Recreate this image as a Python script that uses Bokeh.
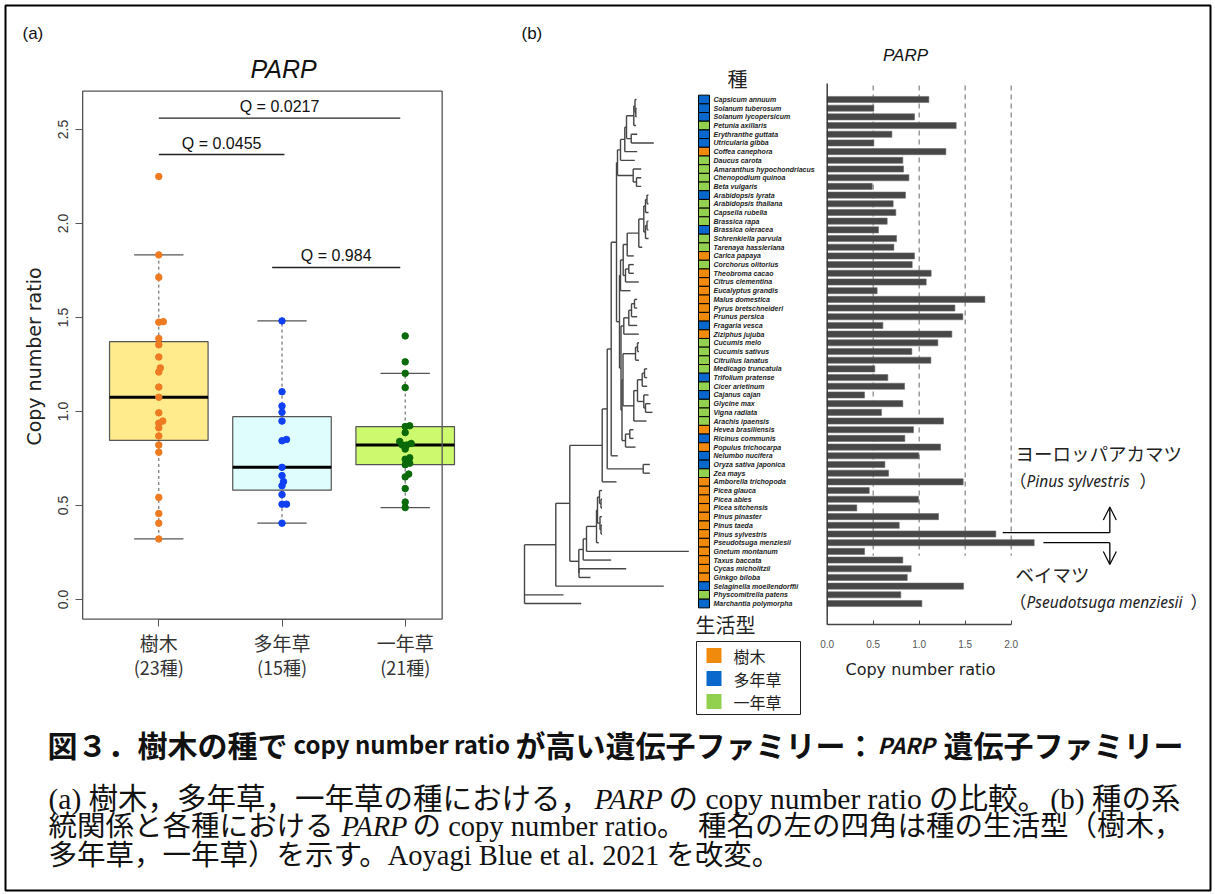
import numpy as np
from bokeh.plotting import figure
from bokeh.models import (Range1d, LinearAxis, FixedTicker, Label, Arrow, OpenHead,
                          ColumnDataSource)
from bokeh.core.properties import value
from bokeh.embed import file_html
from bokeh.resources import INLINE

# ------------------------------------------------------------------ data
species = [
    "Capsicum annuum", "Solanum tuberosum", "Solanum lycopersicum", "Petunia axillaris",
    "Erythranthe guttata", "Utricularia gibba", "Coffea canephora", "Daucus carota",
    "Amaranthus hypochondriacus", "Chenopodium quinoa", "Beta vulgaris", "Arabidopsis lyrata",
    "Arabidopsis thaliana", "Capsella rubella", "Brassica rapa", "Brassica oleracea",
    "Schrenkiella parvula", "Tarenaya hassleriana", "Carica papaya", "Corchorus olitorius",
    "Theobroma cacao", "Citrus clementina", "Eucalyptus grandis", "Malus domestica",
    "Pyrus bretschneideri", "Prunus persica", "Fragaria vesca", "Ziziphus jujuba",
    "Cucumis melo", "Cucumis sativus", "Citrullus lanatus", "Medicago truncatula",
    "Trifolium pratense", "Cicer arietinum", "Cajanus cajan", "Glycine max",
    "Vigna radiata", "Arachis ipaensis", "Hevea brasiliensis", "Ricinus communis",
    "Populus trichocarpa", "Nelumbo nucifera", "Oryza sativa japonica", "Zea mays",
    "Amborella trichopoda", "Picea glauca", "Picea abies", "Picea sitchensis",
    "Pinus pinaster", "Pinus taeda", "Pinus sylvestris", "Pseudotsuga menziesii",
    "Gnetum montanum", "Taxus baccata", "Cycas micholitzii", "Ginkgo biloba",
    "Selaginella moellendorffii", "Physcomitrella patens", "Marchantia polymorpha",
]
# T = 樹木 (tree), P = 多年草 (perennial herb), A = 一年草 (annual herb)
life_form = [
    "P", "P", "P", "A", "P", "P", "T", "A", "A", "A", "A", "P", "A", "A", "A", "P",
    "A", "A", "T", "A", "T", "T", "T", "T", "T", "T", "P", "T", "A", "A", "A", "A",
    "P", "A", "P", "A", "A", "A", "T", "P", "T", "P", "P", "A", "T", "T", "T", "T",
    "T", "T", "T", "T", "T", "T", "T", "T", "P", "A", "P",
]
copy_ratio = [
    1.105, 0.507, 0.949, 1.402, 0.703, 0.507, 1.290, 0.822, 0.830, 0.888, 0.489, 0.851,
    0.717, 0.746, 0.652, 0.558, 0.754, 0.725, 0.949, 0.924, 1.130, 1.076, 0.543, 1.714,
    1.388, 1.475, 0.605, 1.355, 1.203, 0.920, 1.127, 0.518, 0.659, 0.841, 0.406, 0.822,
    0.590, 1.264, 0.938, 0.844, 1.232, 0.996, 0.627, 0.667, 1.478, 0.457, 0.993, 0.322,
    1.210, 0.783, 1.833, 2.250, 0.406, 0.822, 0.913, 0.870, 1.482, 0.800, 1.029,
]
# tip depth of each species in the phylogeny (branch-length units)
tip_depth = [
    112.0, 112.0, 112.0, 111.5, 112.7, 129.3, 112.7, 110.3, 116.7, 116.7, 116.7, 124.0,
    124.0, 124.0, 124.0, 124.0, 124.0, 117.7, 109.3, 109.3, 109.3, 114.3, 106.0, 112.7,
    112.7, 112.7, 112.7, 114.3, 114.5, 114.5, 114.5, 122.7, 122.7, 122.7, 124.0, 126.0,
    128.0, 122.0, 109.0, 109.0, 111.0, 93.3, 125.3, 125.3, 92.0, 77.5, 77.5, 77.5,
    77.5, 77.5, 77.5, 74.3, 164.3, 86.7, 101.7, 66.0, 139.3, 39.0, 56.7,
]
# internal nodes: name -> (depth, children)
tree_nodes = {
    "root": (0.0, ["vasc", "Physcomitrella patens", "Marchantia polymorpha"]),
    "vasc": (31.3, ["seed", "Selaginella moellendorffii"]),
    "seed": (45.3, ["angio", "gymno"]),
    "angio": (77.7, ["mesang", "Amborella trichopoda"]),
    "mesang": (82.7, ["eudicot", "monocot"]),
    "monocot": (118.7, ["Oryza sativa japonica", "Zea mays"]),
    "eudicot": (86.7, ["core", "Nelumbo nucifera"]),
    "core": (92.0, ["superast", "rosid"]),
    "superast": (93.0, ["asterid", "caryo"]),
    "asterid": (96.0, ["lamiid", "Daucus carota"]),
    "lamiid": (100.3, ["solam", "Coffea canephora"]),
    "solam": (102.0, ["solan", "lamiales"]),
    "solan": (109.3, ["capsol", "Petunia axillaris"]),
    "capsol": (110.5, ["Capsicum annuum", "solanum"]),
    "solanum": (111.3, ["Solanum tuberosum", "Solanum lycopersicum"]),
    "lamiales": (106.7, ["Erythranthe guttata", "Utricularia gibba"]),
    "caryo": (108.7, ["Amaranthus hypochondriacus", "chenbeta"]),
    "chenbeta": (112.0, ["Chenopodium quinoa", "Beta vulgaris"]),
    "rosid": (95.0, ["malvid", "fabid"]),
    "malvid": (96.0, ["malv2", "Eucalyptus grandis"]),
    "malv2": (98.7, ["brassicales", "malsap"]),
    "brassicales": (102.7, ["bracle", "Carica papaya"]),
    "bracle": (114.3, ["brassicaceae", "Tarenaya hassleriana"]),
    "brassicaceae": (119.3, ["lin1", "lin2"]),
    "lin1": (121.0, ["arabidopsis", "Capsella rubella"]),
    "arabidopsis": (122.5, ["Arabidopsis lyrata", "Arabidopsis thaliana"]),
    "lin2": (121.0, ["brassica", "Schrenkiella parvula"]),
    "brassica": (122.5, ["Brassica rapa", "Brassica oleracea"]),
    "malsap": (101.0, ["malvales", "Citrus clementina"]),
    "malvales": (104.3, ["Corchorus olitorius", "Theobroma cacao"]),
    "fabid": (96.5, ["rosales", "fab2"]),
    "rosales": (99.3, ["rosaceae", "Ziziphus jujuba"]),
    "rosaceae": (104.3, ["amygdal", "Fragaria vesca"]),
    "amygdal": (107.0, ["pome", "Prunus persica"]),
    "pome": (110.0, ["Malus domestica", "Pyrus bretschneideri"]),
    "fab2": (97.5, ["fab3", "malpig"]),
    "fab3": (98.5, ["cucurbit", "fabaceae"]),
    "cucurbit": (111.0, ["cucumis", "Citrullus lanatus"]),
    "cucumis": (113.0, ["Cucumis melo", "Cucumis sativus"]),
    "fabaceae": (109.3, ["papil", "Arachis ipaensis"]),
    "papil": (113.0, ["irlc", "millet"]),
    "irlc": (117.7, ["medtri", "Cicer arietinum"]),
    "medtri": (120.0, ["Medicago truncatula", "Trifolium pratense"]),
    "millet": (119.3, ["Cajanus cajan", "glyvig"]),
    "glyvig": (121.0, ["Glycine max", "Vigna radiata"]),
    "malpig": (101.0, ["euph", "Populus trichocarpa"]),
    "euph": (105.3, ["Hevea brasiliensis", "Ricinus communis"]),
    "gymno": (54.3, ["gym1", "cycgin"]),
    "gym1": (58.7, ["gym2", "Taxus baccata"]),
    "gym2": (62.0, ["pinaceae", "Gnetum montanum"]),
    "pinaceae": (72.0, ["pinpic", "Pseudotsuga menziesii"]),
    "pinpic": (73.0, ["picea", "pinus"]),
    "picea": (75.0, ["Picea glauca", "piceaAS"]),
    "piceaAS": (76.5, ["Picea abies", "Picea sitchensis"]),
    "pinus": (75.5, ["Pinus pinaster", "pinusTS"]),
    "pinusTS": (76.5, ["Pinus taeda", "Pinus sylvestris"]),
    "cycgin": (54.5, ["Cycas micholitzii", "Ginkgo biloba"]),
}

group_codes = ["T", "P", "A"]
group_names = ["樹木", "多年草", "一年草"]
group_counts = ["(23種)", "(15種)", "(21種)"]
box_fill = ["#FFEA8C", "#DFFDFD", "#CDF96E"]
point_color = ["#EE7A22", "#1040F5", "#0A6A0A"]
life_color = {"T": "#F08A0C", "P": "#0A68CC", "A": "#92D050"}

box_yticks = [0.0, 0.5, 1.0, 1.5, 2.0, 2.5]
box_ylabels = ["0.0", "0.5", "1.0", "1.5", "2.0", "2.5"]
bar_xticks = [0.0, 0.5, 1.0, 1.5, 2.0]
bar_xlabels = ["0.0", "0.5", "1.0", "1.5", "2.0"]
bar_guides = [0.5, 1.0, 1.5, 2.0]

q_text = ["Q = 0.0217", "Q = 0.0455", "Q = 0.984"]
q_x0 = [1.0, 1.0, 1.92]
q_x1 = [2.96, 2.02, 2.96]
q_y = [2.56, 2.367, 1.766]

# ------------------------------------------------------------------ geometry helpers
W, H = 1213, 892
PX0, PY0 = 0, 0          # page offset of the canvas


def hrange(a, b):
    """range so that value v lands at page x = a + b*v"""
    return Range1d((PX0 - a) / b, (PX0 + W - a) / b)


def vrange(a, b):
    """range so that value v lands at page y = a + b*v (page y grows downwards)"""
    return Range1d((PY0 + H - a) / b, (PY0 - a) / b)


BOX_X = (158.3 - 123.2, 123.2)
BOX_Y = (599.0, -188.0)
BAR_X = (826.7, 92.0)
ROW_Y = (99.0, 8.69)
TREE_X = (524.0, 1.0)

p = figure(width=W, height=H, output_backend="svg", toolbar_location=None,
           x_range=Range1d(PX0, PX0 + W), y_range=Range1d(PY0 + H, PY0),
           x_axis_location=None, y_axis_location=None, min_border=0,
           background_fill_color="white", border_fill_color="white")
p.grid.visible = False
p.outline_line_color = None
p.extra_x_ranges = {"bx": hrange(*BOX_X), "bar": hrange(*BAR_X), "tree": hrange(*TREE_X)}
p.extra_y_ranges = {"by": vrange(*BOX_Y), "rows": vrange(*ROW_Y)}

# outer frame of the whole figure
p.quad(left=[5], right=[1210], top=[5], bottom=[890], fill_color=None,
       line_color="black", line_width=2)

SANS = "Liberation Sans"
CJK = "Noto Sans CJK JP"

# ------------------------------------------------------------------ panel (a): box plot
ratio = np.array(copy_ratio)
lf = np.array(life_form)
box_x_lo, box_x_hi = 0.382, 3.30
box_y_lo, box_y_hi = -0.104, 2.704


def fivenum(v):
    x = np.sort(v)
    n = len(x)
    n4 = np.floor((n + 3) / 2) / 2
    d = np.array([1, n4, (n + 1) / 2, n + 1 - n4, n]) - 1
    return 0.5 * (x[np.floor(d).astype(int)] + x[np.ceil(d).astype(int)])


stats = dict(x=[], q1=[], med=[], q3=[], lo=[], hi=[], fill=[])
pts = dict(x=[], y=[], c=[])
for gi, code in enumerate(group_codes):
    v = ratio[lf == code]
    f = fivenum(v)
    iqr = f[3] - f[1]
    lo = v[v >= f[1] - 1.5 * iqr].min()
    hi = v[v <= f[3] + 1.5 * iqr].max()
    xg = gi + 1
    stats["x"].append(xg); stats["q1"].append(f[1]); stats["med"].append(f[2])
    stats["q3"].append(f[3]); stats["lo"].append(lo); stats["hi"].append(hi)
    stats["fill"].append(box_fill[gi])
    # deterministic swarm layout of the points (pixel space)
    placed = []
    offs = np.zeros(len(v))
    steps = [0.0] + [s * k * 0.5 for k in range(1, 60) for s in (1, -1)]
    for i in np.argsort(v, kind="stable"):
        yp = v[i] * abs(BOX_Y[1])
        for xo in steps:
            if all((xo - a) ** 2 + (yp - b) ** 2 >= 4.3 ** 2 for a, b in placed):
                break
        placed.append((xo, yp))
        offs[i] = xo / BOX_X[1]
    pts["x"] += list(xg + offs)
    pts["y"] += list(v)
    pts["c"] += [point_color[gi]] * len(v)

st = ColumnDataSource(stats)
BR = dict(x_range_name="bx", y_range_name="by")
p.segment(x0="x", x1="x", y0="q3", y1="hi", source=st, line_color="#555555",
          line_dash="3 3", line_width=1, **BR)
p.segment(x0="x", x1="x", y0="lo", y1="q1", source=st, line_color="#555555",
          line_dash="3 3", line_width=1, **BR)
cap = ColumnDataSource(dict(x0=[x - 0.2 for x in stats["x"]] * 2,
                            x1=[x + 0.2 for x in stats["x"]] * 2,
                            y=stats["lo"] + stats["hi"]))
p.segment(x0="x0", x1="x1", y0="y", y1="y", source=cap, line_color="#555555",
          line_width=1.2, **BR)
p.quad(left=[x - 0.4 for x in stats["x"]], right=[x + 0.4 for x in stats["x"]],
       bottom=stats["q1"], top=stats["q3"], fill_color=stats["fill"],
       line_color="#555555", line_width=1.2, **BR)
p.segment(x0=[x - 0.4 for x in stats["x"]], x1=[x + 0.4 for x in stats["x"]],
          y0=stats["med"], y1=stats["med"], line_color="black", line_width=3, **BR)
p.scatter(x="x", y="y", color="c", size=6.5, source=ColumnDataSource(pts), **BR)
# plot frame
p.quad(left=[box_x_lo], right=[box_x_hi], bottom=[box_y_lo], top=[box_y_hi],
       fill_color=None, line_color="#555555", line_width=1.3, **BR)
# significance bars
qs = ColumnDataSource(dict(x0=q_x0, x1=q_x1, y=q_y, t=q_text,
                           xm=[(a + b) / 2 for a, b in zip(q_x0, q_x1)]))
p.segment(x0="x0", x1="x1", y0="y", y1="y", source=qs, line_color="#222222",
          line_width=1.3, **BR)
p.text(x="xm", y="y", text="t", source=qs, text_align="center", text_baseline="bottom",
       y_offset=-3, text_font=value(SANS), text_font_size="16px", text_color="#111111", **BR)

yax = LinearAxis(x_range_name="bx", y_range_name="by", fixed_location=box_x_lo,
                 bounds=(0, 2.5), ticker=FixedTicker(ticks=box_yticks),
                 major_label_overrides=dict(zip(box_yticks, box_ylabels)),
                 major_label_orientation="vertical")
xax = LinearAxis(x_range_name="bx", y_range_name="by", fixed_location=box_y_lo,
                 bounds=(1, 3), ticker=FixedTicker(ticks=[1, 2, 3]),
                 major_label_overrides={1: "", 2: "", 3: ""})
for ax in (yax, xax):
    ax.axis_line_color = "#555555"
    ax.axis_line_width = 1.2
    ax.major_tick_line_color = "#555555"
    ax.major_tick_out = 7
    ax.major_tick_in = 0
    ax.minor_tick_line_color = None
yax.major_label_text_font = SANS
yax.major_label_text_font_size = "14px"
yax.major_label_text_color = "#333333"
yax.major_label_standoff = 8
p.add_layout(yax, "left")
p.add_layout(xax, "below")
# two-line category labels under the ticks
p.text(x=[1, 2, 3], y=[box_y_lo] * 3, text=group_names, text_align="center",
       text_baseline="middle", y_offset=23, text_font=value(CJK), text_font_size="19px",
       text_color="#333333", **BR)
p.text(x=[1, 2, 3], y=[box_y_lo] * 3, text=group_counts, text_align="center",
       text_baseline="middle", y_offset=48, text_font=value(CJK), text_font_size="18px",
       text_color="#333333", **BR)

p.add_layout(Label(x=33, y=356, text="Copy number ratio", angle=np.pi / 2,
                   text_align="center", text_baseline="middle", text_font="DejaVu Sans",
                   text_font_size="19px", text_color="#222222"))
p.add_layout(Label(x=283, y=68, text="PARP", text_align="center", text_baseline="middle",
                   text_font=SANS, text_font_style="italic", text_font_size="25px",
                   text_color="#111111"))
p.add_layout(Label(x=22, y=33, text="(a)", text_baseline="middle", text_font=SANS,
                   text_font_size="17px", text_color="#111111"))
p.add_layout(Label(x=521, y=33, text="(b)", text_baseline="middle", text_font=SANS,
                   text_font_size="17px", text_color="#111111"))

# ------------------------------------------------------------------ panel (b): phylogeny
row_of = {s: i for i, s in enumerate(species)}
depth_of = {s: d for s, d in zip(species, tip_depth)}
ypos = dict(row_of)
segs = dict(x0=[], x1=[], y0=[], y1=[])


def place(name):
    if name in ypos and name not in tree_nodes:
        return ypos[name]
    d, kids = tree_nodes[name]
    ys = [place(k) for k in kids]
    ypos[name] = float(np.mean(ys))
    segs["x0"].append(d); segs["x1"].append(d)
    segs["y0"].append(min(ys)); segs["y1"].append(max(ys))
    for k, yk in zip(kids, ys):
        dk = tree_nodes[k][0] if k in tree_nodes else depth_of[k]
        segs["x0"].append(d); segs["x1"].append(dk)
        segs["y0"].append(yk); segs["y1"].append(yk)
    return ypos[name]


place("root")
p.segment(x0="x0", x1="x1", y0="y0", y1="y1", source=ColumnDataSource(segs),
          line_color="#454545", line_width=1.4, x_range_name="tree", y_range_name="rows")

# life-form squares and species names
rows = list(range(len(species)))
p.rect(x=[703.5] * len(rows), y=rows, width=11, height=1,
       fill_color=[life_color[c] for c in life_form], line_color="black", line_width=1,
       y_range_name="rows")
p.text(x=[713] * len(rows), y=rows, text=species, text_baseline="middle",
       text_font=value(SANS), text_font_style="bold italic", text_font_size="7px",
       text_color="#222222", y_range_name="rows")

# ------------------------------------------------------------------ panel (b): bars
BA = dict(x_range_name="bar", y_range_name="rows")
axis_row = (624.3 - ROW_Y[0]) / ROW_Y[1]
p.segment(x0=bar_guides, x1=bar_guides, y0=[-1.6] * 4, y1=[52.5] * 4,
          line_color="#8a8a8a", line_dash="5 4", line_width=1.3, **BA)
p.hbar(y=rows, left=0, right=copy_ratio, height=0.7, fill_color="#474747",
       line_color="#6a6a6a", line_width=0.6, **BA)
p.segment(x0=[0], x1=[0], y0=[-1.85], y1=[axis_row], line_color="#333333",
          line_width=1.4, **BA)
bax = LinearAxis(x_range_name="bar", y_range_name="rows", fixed_location=axis_row,
                 bounds=(0, 2), ticker=FixedTicker(ticks=bar_xticks),
                 major_label_overrides=dict(zip(bar_xticks, bar_xlabels)))
bax.axis_line_color = "#444444"
bax.axis_line_width = 1.3
bax.major_tick_line_color = "#444444"
bax.major_tick_in = 4
bax.major_tick_out = 0
bax.minor_tick_line_color = None
bax.major_label_text_font = SANS
bax.major_label_text_font_size = "10px"
bax.major_label_text_color = "#555555"
bax.major_label_standoff = 15
p.add_layout(bax, "below")
p.add_layout(Label(x=920, y=669, text="Copy number ratio", text_align="center",
                   text_baseline="middle", text_font="DejaVu Sans", text_font_size="16px",
                   text_color="#222222"))
p.add_layout(Label(x=905, y=55, text="PARP", text_align="center", text_baseline="middle",
                   text_font=SANS, text_font_style="italic", text_font_size="17px",
                   text_color="#111111"))
p.add_layout(Label(x=737, y=78, text="種", text_align="center", text_baseline="middle",
                   text_font=CJK, text_font_size="20px", text_color="#222222"))
p.add_layout(Label(x=725, y=624, text="生活型", text_align="center", text_baseline="middle",
                   text_font=CJK, text_font_size="20px", text_color="#222222"))

# legend box
leg_y = [655, 678, 701]
p.quad(left=[696], right=[800], top=[641], bottom=[714], fill_color="white",
       line_color="#222222", line_width=1)
p.rect(x=[713.5] * 3, y=leg_y, width=15, height=15,
       fill_color=[life_color[c] for c in group_codes], line_color=None)
p.text(x=[733] * 3, y=leg_y, text=group_names, text_baseline="middle",
       text_font=value(CJK), text_font_size="16px", text_color="#222222")

# call-outs for the two highest Pinaceae
i_ps = species.index("Pinus sylvestris")
i_pm = species.index("Pseudotsuga menziesii")
turn_x = 3.072
p.segment(x0=[copy_ratio[i_ps] + 0.075, copy_ratio[i_pm] + 0.1], x1=[turn_x, turn_x],
          y0=[i_ps - 0.15, i_pm], y1=[i_ps - 0.15, i_pm], line_color="black",
          line_width=1.3, **BA)
p.add_layout(Arrow(end=OpenHead(size=13, line_width=1.2, line_color="black"),
                   x_start=turn_x, x_end=turn_x, y_start=i_ps - 0.15, y_end=i_ps - 3.1,
                   line_width=1.3, line_color="black", **BA))
p.add_layout(Arrow(end=OpenHead(size=13, line_width=1.2, line_color="black"),
                   x_start=turn_x, x_end=turn_x, y_start=i_pm, y_end=i_pm + 2.5,
                   line_width=1.3, line_color="black", **BA))

NOTE = "Noto Sans"
p.add_layout(Label(x=1015, y=452, text="ヨーロッパアカマツ", text_baseline="middle",
                   text_font=CJK, text_font_size="18.5px", text_color="#222222"))
p.add_layout(Label(x=1009, y=480, text="（", text_baseline="middle",
                   text_font=CJK, text_font_size="17px", text_color="#222222"))
p.add_layout(Label(x=1026, y=480, text="Pinus sylvestris", text_baseline="middle",
                   text_font=NOTE, text_font_style="italic", text_font_size="15.5px",
                   text_color="#222222"))
p.add_layout(Label(x=1139, y=480, text="）", text_baseline="middle",
                   text_font=CJK, text_font_size="17px", text_color="#222222"))
p.add_layout(Label(x=1015, y=573, text="ベイマツ", text_baseline="middle",
                   text_font=CJK, text_font_size="18.5px", text_color="#222222"))
p.add_layout(Label(x=1009, y=601, text="（", text_baseline="middle",
                   text_font=CJK, text_font_size="17px", text_color="#222222"))
p.add_layout(Label(x=1026, y=601, text="Pseudotsuga menziesii", text_baseline="middle",
                   text_font=NOTE, text_font_style="italic", text_font_size="15.5px",
                   text_color="#222222"))
p.add_layout(Label(x=1190, y=601, text="）", text_baseline="middle",
                   text_font=CJK, text_font_size="17px", text_color="#222222"))

# ------------------------------------------------------------------ caption
TITLE_Y = 743
title_parts = [(47, "図３．樹木の種で", "bold", 30, "left"),
               (293, "copy number ratio", "bold", 24, "left"),
               (515, "が高い遺伝子ファミリー：", "bold", 30, "left"),
               (877, "PARP", "bold italic", 22, "left"),
               (1183, "遺伝子ファミリー", "bold", 30, "right")]
for x, t, style, fs, al in title_parts:
    p.add_layout(Label(x=x, y=TITLE_Y, text=t, text_baseline="middle", text_font=CJK,
                       text_align=al, text_font_style=style, text_font_size=f"{fs}px",
                       text_color="#111111"))

SERIF = "Liberation Serif, Noto Sans CJK JP"
cap_lines = [
    (798, 29.5, [(48, "(a) 樹木，多年草，一年草の種における，", "normal", "left"),
                 (594, "PARP", "italic", "left"),
                 (668, " の copy number ratio の比較。", "normal", "left"),
                 (1180, "(b) 種の系", "normal", "right")]),
    (826, 28.5, [(48, "統関係と各種における", "normal", "left"),
                 (341, "PARP", "italic", "left"),
                 (412, " の copy number ratio。", "normal", "left"),
                 (1182, "種名の左の四角は種の生活型（樹木，", "normal", "right")]),
    (855, 28.5, [(48, "多年草，一年草）を示す。Aoyagi Blue et al. 2021 を改変。", "normal", "left")]),
]
for y, fs, parts in cap_lines:
    for x, t, style, al in parts:
        p.add_layout(Label(x=x, y=y, text=t, text_baseline="middle", text_font=SERIF,
                           text_align=al, text_font_style=style, text_font_size=f"{fs}px",
                           text_color="#111111"))

open("out.html", "w").write(file_html(p, INLINE))
